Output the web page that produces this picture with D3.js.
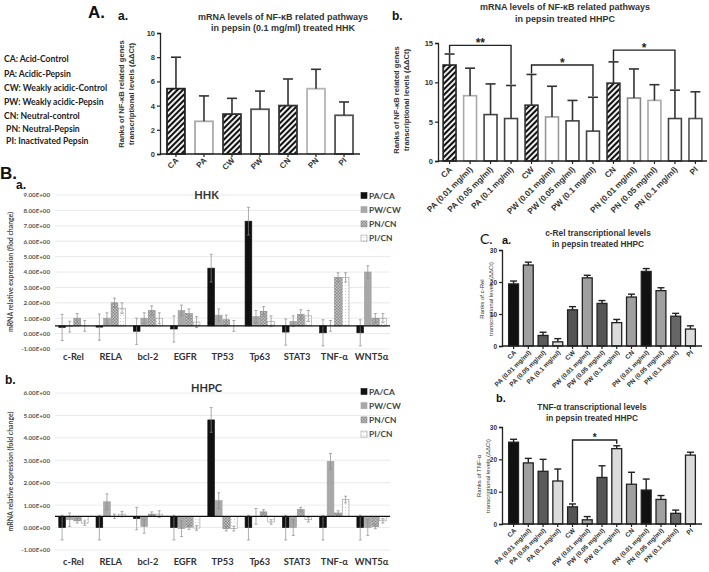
<!DOCTYPE html>
<html><head><meta charset="utf-8">
<script src="https://cdn.jsdelivr.net/npm/d3@7"></script>
<style>body{margin:0;background:#fff}svg{display:block}</style>
</head><body>
<svg id="c" width="709" height="572"></svg>
<script>
// ---------------- DATA ----------------
const legendLines = ["CA: Acid-Control","PA: Acidic-Pepsin","CW: Weakly acidic-Control","PW: Weakly acidic-Pepsin","CN: Neutral-control"," PN: Neutral-Pepsin"," PI: Inactivated Pepsin"];

const aaCats = ["CA","PA","CW","PW","CN","PN","PI"];
const aaMeans = [5.4,2.7,3.3,3.7,4.0,5.4,3.2];
const aaSD    = [2.6,2.1,1.3,1.5,2.2,1.6,1.1];
const aaTicks = [0,2,4,6,8,10];

const abCats = ["CA","PA (0.01 mg/ml)","PA (0.05 mg/ml)","PA (0.1 mg/ml)","CW","PW (0.01 mg/ml)","PW (0.05 mg/ml)","PW (0.1 mg/ml)","CN","PN (0.01 mg/ml)","PN (0.05 mg/ml)","PN (0.1 mg/ml)","PI"];
const abMeans = [12.2,8.3,5.9,5.4,7.1,5.6,5.1,3.8,9.9,8.0,7.7,5.4,5.4];
const abSD    = [1.4,3.5,3.9,4.2,3.9,3.9,2.6,4.3,2.7,3.7,2.0,3.6,3.4];
const abTicks = [0,5,10,15];
const abSigFrom = [0,4,8], abSigTo = [3,7,11], abSigLevel = [14.7,12.2,14.1], abSigText = ["**","*","*"];

const bGenes = ["c-Rel","RELA","bcl-2","EGFR","TP53","Tp63","STAT3","TNF-α","WNT5α"];
const bSeries = ["PA/CA","PW/CW","PN/CN","PI/CN"];
const hhkPA = [0.40,0.42,0.15,0.30,4.25,7.30,0.10,0.05,0.05];
const hhkPW = [0.45,1.00,1.00,1.50,1.20,1.10,0.80,0.50,4.00];
const hhkPN = [1.00,2.00,1.50,1.30,0.90,1.45,1.25,3.65,1.00];
const hhkPI = [0.50,1.65,1.00,0.75,0.50,0.80,1.15,3.65,1.00];
const hhkErrPA = [0.85,0.85,0.85,0.85,0.90,0.90,0.85,0.85,0.85];
const hhkErrPW = [0.35,0.35,0.35,0.35,0.40,0.40,0.35,0.35,0.40];
const hhkErrPN = [0.30,0.30,0.30,0.30,0.30,0.30,0.30,0.30,0.30];
const hhkErrPI = [0.35,0.35,0.35,0.35,0.35,0.35,0.35,0.30,0.30];
const hhkTicks = [-1,0,1,2,3,4,5,6,7,8,9];

const hhpcPA = [0.00,0.00,0.40,0.00,4.80,0.00,0.00,0.00,0.00];
const hhpcPW = [0.35,1.15,0.05,-0.05,1.20,0.50,0.00,2.95,0.00];
const hhpcPN = [0.30,0.50,0.60,0.02,-0.05,0.70,0.80,0.65,0.05];
const hhpcPI = [0.20,0.60,0.60,-0.02,-0.05,0.25,0.35,1.25,0.30];
const hhpcErrPA = [0.55,0.55,0.50,0.55,0.55,0.55,0.55,0.55,0.55];
const hhpcErrPW = [0.30,0.35,0.30,0.35,0.35,0.35,0.35,0.35,0.35];
const hhpcErrPN = [0.10,0.10,0.10,0.10,0.10,0.10,0.10,0.10,0.10];
const hhpcErrPI = [0.10,0.12,0.15,0.10,0.10,0.10,0.10,0.15,0.10];
const hhpcTicks = [-1,0,1,2,3,4,5,6];

const cCats = abCats;
const cRelMeans = [19.4,25.3,3.3,1.3,11.3,21.3,13.3,7.3,15.3,23.3,17.3,9.3,5.3];
const cRelSD    = [0.9,0.9,1.0,1.0,1.0,0.8,0.9,1.0,0.9,0.9,0.9,0.9,1.0];
const tnfMeans  = [25.3,18.9,16.3,13.3,5.3,1.3,14.4,23.3,12.3,10.5,7.6,3.3,21.3];
const tnfSD     = [0.9,1.4,3.7,3.7,0.9,1.0,3.6,0.9,3.7,3.4,1.2,1.0,0.9];
const cTicks = [0,10,20,30];
const tnfSigFrom = [4], tnfSigTo = [7], tnfSigLevel = [26.0], tnfSigText = ["*"];

// ---------------- STYLES ----------------
const svg = d3.select("#c");
const defs = svg.append("defs");
const ph = defs.append("pattern").attr("id","hatchA").attr("patternUnits","userSpaceOnUse")
  .attr("width",4).attr("height",4).attr("patternTransform","rotate(45)");
ph.append("rect").attr("width",4).attr("height",4).attr("fill","#eeeeee");
ph.append("rect").attr("width",2).attr("height",4).attr("fill","#111");
const pc = defs.append("pattern").attr("id","crossB").attr("patternUnits","userSpaceOnUse").attr("width",3).attr("height",3);
pc.append("rect").attr("width",3).attr("height",3).attr("fill","#8a8a8a");
pc.append("rect").attr("width",1.5).attr("height",1.5).attr("fill","#c4c4c4");
pc.append("rect").attr("x",1.5).attr("y",1.5).attr("width",1.5).attr("height",1.5).attr("fill","#c4c4c4");
const pd = defs.append("pattern").attr("id","dotB").attr("patternUnits","userSpaceOnUse").attr("width",3).attr("height",3);
pd.append("rect").attr("width",3).attr("height",3).attr("fill","#fff");
pd.append("rect").attr("width",1).attr("height",1).attr("fill","#d0d0d0");

const AR = "'Liberation Sans', Arial, sans-serif";
const CAL = "Lato, 'Open Sans', sans-serif";

function txt(x,y,s,size,opts={}){
  const t = svg.append("text").attr("x",x).attr("y",y).text(s)
    .attr("font-family",opts.family||AR).attr("font-size",size)
    .attr("font-weight",opts.weight||"normal").attr("fill",opts.fill||"#222")
    .attr("text-anchor",opts.anchor||"start");
  if(opts.rotate!=null) t.attr("transform",`rotate(${opts.rotate},${x},${y})`);
  return t;
}

// ---------------- PANEL LETTERS ----------------
txt(88,18,"A.",17,{weight:"bold",fill:"#111"});
txt(118,20,"a.",12,{weight:"bold",fill:"#111"});
txt(392,20,"b.",12,{weight:"bold",fill:"#111"});
txt(0,179,"B.",17,{weight:"bold",fill:"#111"});
txt(16,189,"a.",12,{weight:"bold",fill:"#111"});
txt(5,384,"b.",12,{weight:"bold",fill:"#111"});
txt(480,244,"C.",14,{family:CAL,fill:"#111"});
txt(502,244,"a.",11,{weight:"bold",fill:"#111"});
txt(496,402,"b.",11,{weight:"bold",fill:"#111"});

// legend A
legendLines.forEach((s,i)=>{
  txt(4,[62,77,91,105,119,132,144][i],s,8.6,{family:CAL,weight:"bold",fill:"#222"}).attr("xml:space","preserve");
});

// ---------------- GENERIC GRAPHPAD-STYLE BAR PANEL ----------------
function prismPanel(cfg){
  const x = d3.scaleBand().domain(cfg.cats).range(cfg.xr).paddingInner(cfg.pin).paddingOuter(cfg.pout);
  const y = d3.scaleLinear().domain(cfg.yd).range(cfg.yr);
  const g = svg.append("g");
  g.selectAll("rect.bar").data(cfg.cats).join("rect")
    .attr("x",d=>x(d)).attr("width",x.bandwidth())
    .attr("y",(d,i)=>y(cfg.means[i])).attr("height",(d,i)=>y(0)-y(cfg.means[i]))
    .attr("fill",(d,i)=>cfg.fill[i]).attr("stroke",(d,i)=>cfg.stroke[i]).attr("stroke-width",cfg.sw);
  const eb = g.selectAll("g.eb").data(cfg.cats).join("g");
  eb.append("line").attr("x1",d=>x(d)+x.bandwidth()/2).attr("x2",d=>x(d)+x.bandwidth()/2)
    .attr("y1",(d,i)=>y(cfg.means[i])).attr("y2",(d,i)=>y(cfg.means[i]+cfg.sd[i]))
    .attr("stroke",cfg.ec).attr("stroke-width",cfg.ew);
  eb.append("line").attr("x1",d=>x(d)+x.bandwidth()/2-cfg.cap).attr("x2",d=>x(d)+x.bandwidth()/2+cfg.cap)
    .attr("y1",(d,i)=>y(cfg.means[i]+cfg.sd[i])).attr("y2",(d,i)=>y(cfg.means[i]+cfg.sd[i]))
    .attr("stroke",cfg.ec).attr("stroke-width",cfg.ew);
  const ya = g.append("g").attr("transform",`translate(${cfg.xr[0]},0)`)
    .call(d3.axisLeft(y).tickValues(cfg.ticks).tickSize(3).tickPadding(2));
  ya.select(".domain").attr("stroke","#222").attr("stroke-width",1.3);
  ya.selectAll(".tick line").attr("stroke","#222").attr("stroke-width",1.2);
  ya.selectAll("text").attr("font-family",AR).attr("font-size",cfg.tfs).attr("font-weight","bold").attr("fill","#333");
  g.append("line").attr("x1",cfg.xr[0]).attr("x2",cfg.xr[1]).attr("y1",y(0)).attr("y2",y(0)).attr("stroke","#222").attr("stroke-width",1.3);
  g.selectAll("line.xt").data(cfg.cats).join("line").attr("class","xt")
    .attr("x1",d=>x(d)+x.bandwidth()/2).attr("x2",d=>x(d)+x.bandwidth()/2)
    .attr("y1",y(0)).attr("y2",y(0)+3).attr("stroke","#222").attr("stroke-width",1.2);
  g.selectAll("text.xl").data(cfg.cats).join("text").attr("class","xl")
    .attr("transform",d=>`translate(${x(d)+x.bandwidth()/2+3},${y(0)+cfg.xoff}) rotate(-45)`)
    .attr("text-anchor","end").attr("font-family",AR).attr("font-size",cfg.xfs).attr("font-weight","bold").attr("fill","#333")
    .text(d=>d);
  cfg.title.forEach((s,i)=>txt(cfg.tx,cfg.ty+i*cfg.tls,s,cfg.tsz,{anchor:"middle",weight:"bold",fill:"#333"}));
  cfg.ylab.forEach((s,i)=>txt(cfg.ylx+i*cfg.yls,cfg.yly,s,cfg.ylsz,{anchor:"middle",weight:cfg.ylw||"bold",fill:"#333",rotate:-90}));
  if(cfg.sigFrom){
    cfg.sigFrom.forEach((f,k)=>{
      const t = cfg.sigTo[k];
      const xf = x(cfg.cats[f])+x.bandwidth()/2, xt = x(cfg.cats[t])+x.bandwidth()/2;
      const yl = y(cfg.sigLevel[k]);
      const yf = y(cfg.means[f]+cfg.sd[f])-cfg.gap, yt = y(cfg.means[t]+cfg.sd[t])-cfg.gap;
      g.append("path").attr("d",`M${xf},${yf}V${yl}H${xt}V${yt}`).attr("fill","none").attr("stroke","#222").attr("stroke-width",1.4);
      txt((xf+xt)/2,yl-4,cfg.sigText[k],cfg.sigsz,{anchor:"middle",weight:"bold",fill:"#222"}).attr("dy","0.5em");
    });
  }
  return {x,y};
}

// A.a
const H="url(#hatchA)";
prismPanel({cats:aaCats,means:aaMeans,sd:aaSD,xr:[160,360],pin:0.36,pout:0.25,yd:[0,10],yr:[154,33],ticks:aaTicks,
  fill:[H,"#fff",H,"#fff",H,"#fff","#fff"],
  stroke:["#222","#aaa","#333","#555","#333","#b5b5b5","#555"],sw:1.8,ec:"#333",ew:1.6,cap:5,tfs:7.5,xfs:8,xoff:7,
  title:["mRNA levels of NF-\u03BAB related pathways","in pepsin (0.1 mg/ml) treated HHK"],tx:283,ty:20,tls:11,tsz:9,
  ylab:["Ranks of NF-\u03BAB related genes","transcriptional levels (\u0394\u0394Ct)"],ylx:124,yls:10,yly:94,ylsz:7.6});

// A.b
prismPanel({cats:abCats,means:abMeans,sd:abSD,xr:[438,707],pin:0.37,pout:0.25,yd:[0,15],yr:[161,43],ticks:abTicks,
  fill:[H,"#fff","#fff","#fff",H,"#fff","#fff","#fff",H,"#fff","#fff","#fff","#fff"],
  stroke:["#222","#aaa","#444","#444","#333","#999","#444","#444","#333","#888","#aaa","#444","#555"],sw:1.6,ec:"#333",ew:1.6,cap:5,tfs:7.5,xfs:8.2,xoff:9,
  title:["mRNA levels of NF-\u03BAB related pathways","in pepsin treated HHPC"],tx:565,ty:10,tls:11.5,tsz:9,
  ylab:["Ranks of NF-\u03BAB related genes","transcriptional levels (\u0394\u0394Ct)"],ylx:399,yls:10,yly:100,ylsz:7.6,
  sigFrom:abSigFrom,sigTo:abSigTo,sigLevel:abSigLevel,sigText:abSigText,gap:1,sigsz:12});

// C.a
const cFill = ["#111","#a0a0a0","#5a5a5a","#dcdcdc","#555","#a0a0a0","#555","#dcdcdc","#a0a0a0","#111","#a0a0a0","#666","#dcdcdc"];
prismPanel({cats:cCats,means:cRelMeans,sd:cRelSD,xr:[502,702],pin:0.33,pout:0.45,yd:[0,30],yr:[346,250],ticks:cTicks,
  fill:cFill,stroke:cFill.map(()=>"#222"),sw:1.3,ec:"#222",ew:1.4,cap:3.5,tfs:6.5,xfs:6.5,xoff:7,
  title:["c-Rel transcriptional levels","in pepsin treated HHPC"],tx:598,ty:236,tls:11,tsz:8.3,
  ylab:["Ranks of c-Rel","transcriptional levels (\u0394\u0394Ct)"],ylx:484,yls:9,yly:299,ylsz:6,ylw:"normal"});

// C.b
prismPanel({cats:cCats,means:tnfMeans,sd:tnfSD,xr:[502,702],pin:0.33,pout:0.45,yd:[0,30],yr:[524,427],ticks:cTicks,
  fill:cFill,stroke:cFill.map(()=>"#222"),sw:1.3,ec:"#222",ew:1.4,cap:3.5,tfs:6.5,xfs:6.5,xoff:7,
  title:["TNF-\u03B1 transcriptional levels","in pepsin treated HHPC"],tx:592,ty:410,tls:11,tsz:8.3,
  ylab:["Ranks of TNF-\u03B1","transcriptional levels (\u0394\u0394Ct)"],ylx:481,yls:9,yly:476,ylsz:6,ylw:"normal",
  sigFrom:tnfSigFrom,sigTo:tnfSigTo,sigLevel:tnfSigLevel,sigText:tnfSigText,gap:2,sigsz:10});

// ---------------- EXCEL-STYLE GROUPED PANELS ----------------
const bFill = ["#111","#a8a8a8","url(#crossB)","url(#dotB)"];
const bStroke = ["#111","#a0a0a0","#888","#999"];
function excelPanel(cfg){
  const x0 = d3.scaleBand().domain(bGenes).range(cfg.xr).paddingInner(0.19).paddingOuter(0.09);
  const x1 = d3.scaleBand().domain(bSeries).range([0,x0.bandwidth()]);
  const y = d3.scaleLinear().domain(cfg.yd).range(cfg.yr);
  const g = svg.append("g");
  g.selectAll("line.gr").data(cfg.ticks).join("line")
    .attr("x1",cfg.xr[0]).attr("x2",cfg.xr[1]).attr("y1",d=>y(d)).attr("y2",d=>y(d))
    .attr("stroke","#e4e4e4").attr("stroke-width",0.8);
  const fmt = v => (v<0?"-":"")+Math.abs(v).toFixed(2)+"E+00";
  const ya = g.append("g").attr("transform",`translate(${cfg.xr[0]-3},0)`)
    .call(d3.axisLeft(y).tickValues(cfg.ticks).tickSize(0).tickPadding(2).tickFormat(fmt));
  ya.select(".domain").remove();
  ya.selectAll("text").attr("font-family",CAL).attr("font-size",6.2).attr("font-weight","bold").attr("fill","#555");
  const base = cfg.base;
  cfg.series.forEach((vals,si)=>{
    const s = bSeries[si];
    g.selectAll(null).data(bGenes).join("rect")
      .attr("x",d=>x0(d)+x1(s)+0.4).attr("width",x1.bandwidth()-0.8)
      .attr("y",(d,i)=>Math.min(y(vals[i]),y(base)))
      .attr("height",(d,i)=>Math.abs(y(vals[i])-y(base)))
      .attr("fill",bFill[si]).attr("stroke",bStroke[si]).attr("stroke-width",0.6);
  });
  cfg.series.forEach((vals,si)=>{
    const s = bSeries[si], er = cfg.errs[si];
    const cx = d=>x0(d)+x1(s)+x1.bandwidth()/2;
    g.selectAll(null).data(bGenes).join("path")
      .attr("d",(d,i)=>{const a=y(vals[i]-er[i]), b=y(vals[i]+er[i]), c=cx(d);
        return `M${c},${a}V${b}M${c-1.5},${a}H${c+1.5}M${c-1.5},${b}H${c+1.5}`;})
      .attr("fill","none").attr("stroke","#8a8a8a").attr("stroke-width",0.7);
  });
  g.append("line").attr("x1",cfg.xr[0]).attr("x2",cfg.xr[1]).attr("y1",y(base)).attr("y2",y(base))
    .attr("stroke","#111").attr("stroke-width",1.1);
  g.selectAll("text.gl").data(bGenes).join("text")
    .attr("x",d=>x0(d)+x0.bandwidth()/2).attr("y",cfg.ly).attr("text-anchor","middle")
    .attr("font-family",CAL).attr("font-size",9.3).attr("font-weight","bold").attr("fill","#333").text(d=>d);
  txt((cfg.xr[0]+cfg.xr[1])/2-16,cfg.ty,cfg.title,11,{family:CAL,weight:"bold",anchor:"middle",fill:"#333"});
  txt(13,(cfg.yr[0]+cfg.yr[1])/2,cfg.ylab,6.9,{family:CAL,weight:"bold",anchor:"middle",fill:"#444",rotate:-90});
  bSeries.forEach((s,i)=>{
    const yy = cfg.lgy+i*14.2;
    g.append("rect").attr("x",361).attr("y",yy-5.5).attr("width",6).attr("height",6)
      .attr("fill",bFill[i]).attr("stroke",bStroke[i]).attr("stroke-width",0.6);
    txt(369,yy+0.5,s,8.4,{family:CAL,weight:"bold",fill:"#444"});
  });
}
excelPanel({xr:[55,390],yd:[-1,9],yr:[349,195],ticks:hhkTicks,base:0.5,
  series:[hhkPA,hhkPW,hhkPN,hhkPI],errs:[hhkErrPA,hhkErrPW,hhkErrPN,hhkErrPI],
  ly:360,ty:199,title:"HHK",ylab:"mRNA relative expression (flod change)",lgy:198});
excelPanel({xr:[55,390],yd:[-1,6],yr:[550,393],ticks:hhpcTicks,base:0.5,
  series:[hhpcPA,hhpcPW,hhpcPN,hhpcPI],errs:[hhpcErrPA,hhpcErrPW,hhpcErrPN,hhpcErrPI],
  ly:565,ty:392,title:"HHPC",ylab:"mRNA relative expression (fold change)",lgy:394});
</script>
</body></html>
